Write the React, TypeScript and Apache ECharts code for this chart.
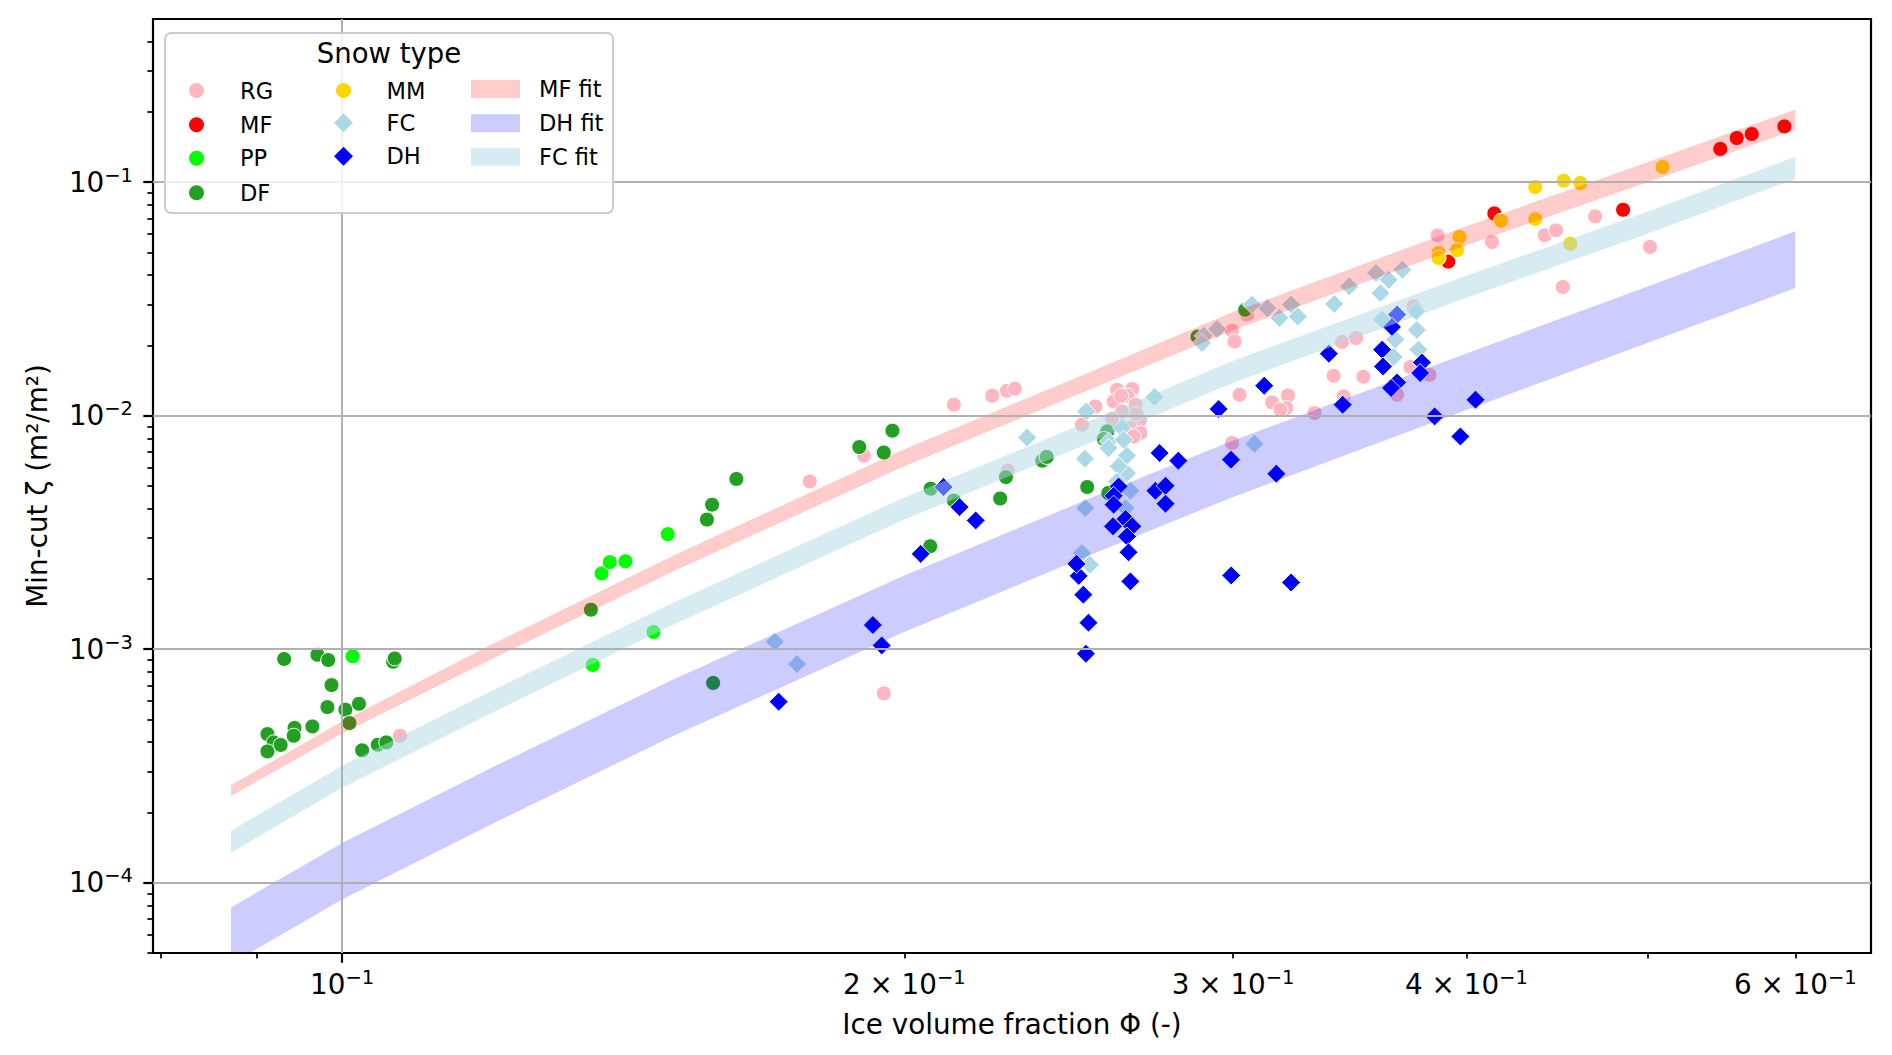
import { useEffect, useRef } from "react";
import * as echarts from "echarts";

const FONT = "DejaVu Sans";

// axis limits (log scales)
const xMin = 0.0792;
const xMax = 0.6587;
const yMin = 5e-5;
const yMax = 0.5;

// tick values
const xMajorTicks = [0.1];
const xMinorTicks = [0.08, 0.09, 0.2, 0.3, 0.4, 0.5, 0.6];
const xMinorLabels = [0.2, 0.3, 0.4, 0.6];
const yMajorTicks = [1e-4, 1e-3, 1e-2, 1e-1];
const yMinorTicks = [
  5e-5, 6e-5, 7e-5, 8e-5, 9e-5,
  2e-4, 3e-4, 4e-4, 5e-4, 6e-4, 7e-4, 8e-4, 9e-4,
  2e-3, 3e-3, 4e-3, 5e-3, 6e-3, 7e-3, 8e-3, 9e-3,
  2e-2, 3e-2, 4e-2, 5e-2, 6e-2, 7e-2, 8e-2, 9e-2,
  0.2, 0.3, 0.4,
];

// scatter points: [ice volume fraction, min-cut]
const rgPoints = [
  [0.1074, 4.26e-4], [0.178, 5.23e-3], [0.1903, 6.74e-3], [0.2126, 1.115e-2],
  [0.2229, 1.218e-2], [0.227, 1.279e-2], [0.2292, 1.305e-2], [0.2272, 5.83e-3],
  [0.195, 6.47e-4], [0.26, 1.292e-2], [0.2649, 1.301e-2], [0.2634, 1.218e-2],
  [0.2589, 1.151e-2], [0.266, 1.115e-2], [0.2616, 1.043e-2], [0.2584, 9.68e-3],
  [0.2674, 9.55e-3], [0.2643, 8.86e-3], [0.2676, 8.43e-3], [0.2531, 1.096e-2],
  [0.249, 9.15e-3], [0.2654, 8.15e-3], [0.2613, 1.218e-2], [0.2663, 1.02e-2],
  [0.2996, 2.31e-2], [0.3005, 2.08e-2], [0.3052, 2.71e-2], [0.3431, 2.07e-2],
  [0.3491, 2.15e-2], [0.3748, 2.94e-2], [0.3396, 1.483e-2], [0.3523, 1.469e-2],
  [0.3024, 1.23e-2], [0.3148, 1.14e-2], [0.321, 1.222e-2], [0.3203, 1.079e-2],
  [0.318, 1.061e-2], [0.3438, 1.21e-2], [0.3317, 1.027e-2], [0.2996, 7.64e-3],
  [0.3822, 1.498e-2], [0.3672, 1.23e-2], [0.3733, 1.616e-2], [0.386, 5.92e-2],
  [0.4128, 5.54e-2], [0.4405, 5.92e-2], [0.4467, 6.22e-2], [0.4688, 7.14e-2],
  [0.5016, 5.28e-2], [0.4505, 3.56e-2],
];
const mfPoints = [
  [0.592, 0.1734], [0.5686, 0.1608], [0.5582, 0.1546], [0.547, 0.1388],
  [0.4852, 7.62e-2], [0.414, 7.35e-2], [0.3911, 4.57e-2],
];
const ppPoints = [
  [0.1013, 9.32e-4], [0.1377, 2.11e-3], [0.1391, 2.36e-3], [0.1418, 2.38e-3],
  [0.1494, 3.11e-3], [0.1468, 1.185e-3], [0.1362, 8.56e-4],
];
const dfPoints = [
  [0.0931, 9.08e-4], [0.097, 9.47e-4], [0.0983, 8.99e-4], [0.1065, 8.84e-4],
  [0.1067, 9.13e-4], [0.0987, 7.02e-4], [0.0982, 5.65e-4], [0.1004, 5.51e-4],
  [0.1021, 5.84e-4], [0.1009, 4.83e-4], [0.0964, 4.67e-4], [0.0943, 4.6e-4],
  [0.0942, 4.26e-4], [0.0912, 4.33e-4], [0.0919, 3.99e-4], [0.0927, 3.89e-4],
  [0.0912, 3.65e-4], [0.1025, 3.69e-4], [0.1045, 3.9e-4], [0.1056, 3.99e-4],
  [0.1359, 1.476e-3], [0.1568, 3.59e-3], [0.1578, 4.16e-3], [0.1626, 5.36e-3],
  [0.158, 7.17e-4], [0.1892, 7.34e-3], [0.195, 6.96e-3], [0.1971, 8.63e-3],
  [0.2371, 6.42e-3], [0.2384, 6.66e-3], [0.2267, 5.46e-3], [0.2066, 4.87e-3],
  [0.2126, 4.33e-3], [0.2251, 4.42e-3], [0.2506, 4.95e-3], [0.2572, 4.67e-3],
  [0.2569, 8.57e-3], [0.2558, 7.95e-3], [0.2065, 2.76e-3], [0.2871, 2.18e-2],
  [0.3045, 2.84e-2],
];
const mmPoints = [
  [0.5094, 0.1162], [0.4603, 9.92e-2], [0.451, 0.1015], [0.4354, 9.54e-2],
  [0.4354, 6.96e-2], [0.4174, 6.84e-2], [0.3965, 5.83e-2], [0.3954, 5.12e-2],
  [0.3865, 4.98e-2], [0.3865, 4.74e-2], [0.4546, 5.45e-2],
];
const fcPoints = [
  [0.2327, 8.07e-3], [0.2503, 1.043e-2], [0.2723, 1.202e-2], [0.2499, 6.54e-3],
  [0.1705, 1.077e-3], [0.1752, 8.64e-4], [0.249, 2.58e-3], [0.2514, 2.3e-3],
  [0.2643, 4.77e-3], [0.25, 4.02e-3], [0.2627, 4.02e-3], [0.2616, 8.86e-3],
  [0.2573, 7.76e-3], [0.2621, 7.89e-3], [0.2632, 6.74e-3], [0.2573, 7.27e-3],
  [0.2632, 5.68e-3], [0.2605, 6.07e-3], [0.26, 5.23e-3], [0.307, 2.99e-2],
  [0.3129, 2.89e-2], [0.3176, 2.62e-2], [0.3222, 2.99e-2], [0.3249, 2.66e-2],
  [0.2941, 2.35e-2], [0.2893, 2.2e-2], [0.2887, 2.05e-2], [0.3398, 3.01e-2],
  [0.3462, 3.58e-2], [0.3578, 4.08e-2], [0.3634, 3.82e-2], [0.3696, 4.22e-2],
  [0.3597, 3.35e-2], [0.3605, 2.58e-2], [0.376, 2.8e-2], [0.3763, 2.33e-2],
  [0.3664, 2.12e-2], [0.377, 1.918e-2], [0.3656, 1.784e-2], [0.308, 7.59e-3],
];
const dhPoints = [
  [0.2099, 4.95e-3], [0.2141, 4.06e-3], [0.2184, 3.56e-3], [0.2041, 2.56e-3],
  [0.1924, 1.269e-3], [0.1945, 1.038e-3], [0.1713, 5.96e-4], [0.248, 2.06e-3],
  [0.2494, 1.712e-3], [0.251, 1.299e-3], [0.2502, 9.56e-4], [0.2473, 2.32e-3],
  [0.274, 6.92e-3], [0.2804, 6.42e-3], [0.2726, 4.77e-3], [0.276, 5.01e-3],
  [0.276, 4.2e-3], [0.2947, 1.068e-2], [0.2992, 6.48e-3], [0.2993, 2.07e-3],
  [0.2605, 4.98e-3], [0.2589, 4.54e-3], [0.2589, 4.16e-3], [0.2627, 3.61e-3],
  [0.2587, 3.36e-3], [0.2649, 3.36e-3], [0.2632, 3.04e-3], [0.2637, 2.6e-3],
  [0.2643, 1.952e-3], [0.3672, 2.71e-2], [0.3649, 2.4e-2], [0.3605, 1.918e-2],
  [0.3609, 1.626e-2], [0.3672, 1.389e-2], [0.3645, 1.314e-2], [0.3786, 1.691e-2],
  [0.3778, 1.524e-2], [0.3376, 1.843e-2], [0.3117, 1.344e-2], [0.3434, 1.115e-2],
  [0.3846, 9.93e-3], [0.4045, 1.171e-2], [0.397, 8.15e-3], [0.3164, 5.64e-3],
  [0.3222, 1.932e-3],
];

// fit bands: lower / upper edge at bandX
const bandX = [0.0872, 0.1, 0.12, 0.15, 0.2, 0.25, 0.3, 0.4, 0.5, 0.6];
const mfLow = [2.35e-4, 4.36e-4, 9.0e-4, 2.13e-3, 6.08e-3, 1.27e-2, 2.32e-2, 5.37e-2, 9.99e-2, 0.1678];
const mfHigh = [2.62e-4, 4.91e-4, 1.04e-3, 2.49e-3, 7.19e-3, 1.51e-2, 2.78e-2, 6.48e-2, 0.1218, 0.2046];
const fcLow = [1.344e-4, 2.552e-4, 5.29e-4, 1.261e-3, 3.59e-3, 7.51e-3, 1.384e-2, 3.2e-2, 6.02e-2, 0.1035];
const fcHigh = [1.67e-4, 3.17e-4, 6.58e-4, 1.566e-3, 4.46e-3, 9.33e-3, 1.72e-2, 3.98e-2, 7.48e-2, 0.1286];
const dhLow = [4.49e-5, 8.47e-5, 1.766e-4, 4.21e-4, 1.185e-3, 2.48e-3, 4.49e-3, 1.057e-2, 2.048e-2, 3.525e-2];
const dhHigh = [7.84e-5, 1.481e-4, 3.087e-4, 7.35e-4, 2.07e-3, 4.34e-3, 7.84e-3, 1.848e-2, 3.579e-2, 6.16e-2];

const COLORS: Record<string, string> = {
  RG: "#ffb6c1",
  MF: "#ff0000",
  PP: "#00ff00",
  DF: "#23a023",
  MM: "#ffd700",
  FC: "#add8e6",
  DH: "#0000ff",
  "MF fit": "rgba(255,0,0,0.2)",
  "DH fit": "rgba(0,0,255,0.2)",
  "FC fit": "rgba(173,216,230,0.5)",
};

// legend layout (pixel positions of each entry)
const legendLayout = [
  { name: "RG", icon: "circle", left: 189, top: 79, w: 15, h: 15, pad: 31 },
  { name: "MF", icon: "circle", left: 189, top: 113.3, w: 15, h: 15, pad: 31 },
  { name: "PP", icon: "circle", left: 189, top: 146.7, w: 15, h: 15, pad: 31 },
  { name: "DF", icon: "circle", left: 189, top: 181.3, w: 15, h: 15, pad: 31 },
  { name: "MM", icon: "circle", left: 336, top: 79, w: 15, h: 15, pad: 30.5 },
  { name: "FC", icon: "diamond", left: 334, top: 111.3, w: 19, h: 19, pad: 28.5 },
  { name: "DH", icon: "diamond", left: 334, top: 144.7, w: 19, h: 19, pad: 28.5 },
  { name: "MF fit", icon: "rect", left: 471, top: 77.5, w: 49, h: 18, pad: 14 },
  { name: "DH fit", icon: "rect", left: 471, top: 111.8, w: 49, h: 18, pad: 14 },
  { name: "FC fit", icon: "rect", left: 471, top: 145.2, w: 49, h: 18, pad: 14 },
];

const tickRich = {
  b: { fontSize: 27.8, lineHeight: 34, fontFamily: FONT, color: "#000" },
  e: { fontSize: 19.5, lineHeight: 20, verticalAlign: "top", fontFamily: FONT, color: "#000" },
};

function logLabel(v: number) {
  const exp = Math.floor(Math.log10(v) + 1e-9);
  const mant = Math.round(v / Math.pow(10, exp));
  const base = mant === 1 ? "10" : `${mant} × 10`;
  return `{b|${base}}{e|−${Math.abs(exp)}}`;
}

function scatter(name: string, data: number[][], symbol: string, size: number) {
  return {
    type: "scatter",
    name,
    xAxisIndex: 0,
    yAxisIndex: 0,
    data,
    symbol,
    symbolSize: size,
    z: 2,
    itemStyle: { color: COLORS[name], borderColor: "#ffffff", borderWidth: 1, opacity: 1 },
    emphasis: { disabled: true },
  };
}

function band(name: string, lo: number[], hi: number[]) {
  const color = COLORS[name];
  return {
    type: "custom",
    name,
    xAxisIndex: 0,
    yAxisIndex: 0,
    z: 3,
    clip: true,
    silent: true,
    itemStyle: { color },
    data: bandX.map((x, i) => [x, lo[i], hi[i]]),
    encode: { x: 0, y: [1, 2] },
    renderItem: (params: any, api: any) => {
      if (params.dataIndex !== 0) return null;
      const upper = bandX.map((x, i) => api.coord([x, hi[i]]));
      const lower = bandX.map((x, i) => api.coord([x, lo[i]])).reverse();
      return {
        type: "polygon",
        shape: { points: upper.concat(lower) },
        style: { fill: color },
      };
    },
  };
}

const gridBox = { left: 153, top: 19, width: 1718, height: 934 };

export default function App() {
  const ref = useRef<HTMLDivElement>(null);

  useEffect(() => {
    document.body.style.margin = "0";
    if (!ref.current) return;
    const chart = echarts.init(ref.current, null, { renderer: "svg" });

    const option: any = {
      animation: false,
      backgroundColor: "#ffffff",
      textStyle: { fontFamily: FONT },
      grid: [
        { ...gridBox, show: true, borderColor: "#000", borderWidth: 2.2, backgroundColor: "transparent" },
        { ...gridBox, show: false },
      ],
      xAxis: [
        {
          type: "log",
          gridIndex: 0,
          min: xMin,
          max: xMax,
          z: 4,
          axisLine: { show: false },
          axisTick: {
            show: true,
            customValues: xMajorTicks,
            length: 9.7,
            lineStyle: { color: "#000", width: 2.2 },
          },
          axisLabel: {
            customValues: xMajorTicks,
            margin: 14,
            formatter: (v: number) => logLabel(v),
            rich: tickRich,
          },
          splitLine: { show: true, lineStyle: { color: "#b0b0b0", width: 2 } },
          name: "Ice volume fraction Φ (-)",
          nameLocation: "middle",
          nameGap: 57,
          nameTextStyle: { fontSize: 27.8, fontFamily: FONT, color: "#000" },
        },
        {
          type: "log",
          gridIndex: 1,
          min: xMin,
          max: xMax,
          z: 4,
          axisLine: { show: false },
          axisTick: {
            show: true,
            customValues: xMinorTicks,
            length: 5.6,
            lineStyle: { color: "#000", width: 1.7 },
          },
          axisLabel: {
            customValues: xMinorLabels,
            margin: 14,
            formatter: (v: number) => logLabel(v),
            rich: tickRich,
          },
          splitLine: { show: false },
        },
      ],
      yAxis: [
        {
          type: "log",
          gridIndex: 0,
          min: yMin,
          max: yMax,
          z: 4,
          axisLine: { show: false },
          axisTick: {
            show: true,
            customValues: yMajorTicks,
            length: 9.7,
            lineStyle: { color: "#000", width: 2.2 },
          },
          axisLabel: {
            customValues: yMajorTicks,
            margin: 20,
            formatter: (v: number) => logLabel(v),
            rich: tickRich,
          },
          splitLine: { show: true, lineStyle: { color: "#b0b0b0", width: 2 } },
          name: "Min-cut ζ (m²/m²)",
          nameLocation: "middle",
          nameGap: 102,
          nameRotate: 90,
          nameTextStyle: { fontSize: 27.8, fontFamily: FONT, color: "#000" },
        },
        {
          type: "log",
          gridIndex: 1,
          min: yMin,
          max: yMax,
          z: 4,
          axisLine: { show: false },
          axisTick: {
            show: true,
            customValues: yMinorTicks,
            length: 5.6,
            lineStyle: { color: "#000", width: 1.7 },
          },
          axisLabel: { show: false },
          splitLine: { show: false },
        },
      ],
      legend: legendLayout.map((it) => ({
        left: it.left,
        top: it.top,
        padding: 0,
        z: 6,
        itemWidth: it.w,
        itemHeight: it.h,
        selectedMode: false,
        data: [
          {
            name: it.name,
            icon: it.icon,
            itemStyle: { color: COLORS[it.name], borderWidth: 0, opacity: 1 },
          },
        ],
        formatter: (name: string) => `{s| }${name}`,
        textStyle: {
          fontSize: 22.5,
          fontFamily: FONT,
          color: "#000",
          rich: { s: { width: it.pad, fontSize: 22.5 } },
        },
      })),
      graphic: [
        {
          type: "rect",
          z: 5,
          silent: true,
          shape: { x: 165, y: 33, width: 448, height: 180, r: 6 },
          style: { fill: "rgba(255,255,255,0.8)", stroke: "#cccccc", lineWidth: 2 },
        },
        {
          type: "text",
          z: 6,
          silent: true,
          x: 389,
          y: 53,
          style: {
            text: "Snow type",
            fontSize: 27.5,
            fontFamily: FONT,
            fill: "#000",
            align: "center",
            verticalAlign: "middle",
            textAlign: "center",
            textVerticalAlign: "middle",
          },
        },
      ],
      series: [
        scatter("RG", rgPoints, "circle", 15),
        scatter("MF", mfPoints, "circle", 15),
        scatter("PP", ppPoints, "circle", 15),
        scatter("DF", dfPoints, "circle", 15),
        scatter("MM", mmPoints, "circle", 15),
        scatter("FC", fcPoints, "diamond", 19),
        scatter("DH", dhPoints, "diamond", 19),
        band("MF fit", mfLow, mfHigh),
        band("DH fit", dhLow, dhHigh),
        band("FC fit", fcLow, fcHigh),
      ],
    };

    chart.setOption(option);
    return () => {
      chart.dispose();
    };
  }, []);

  return <div ref={ref} style={{ width: 1892, height: 1055 }} />;
}
